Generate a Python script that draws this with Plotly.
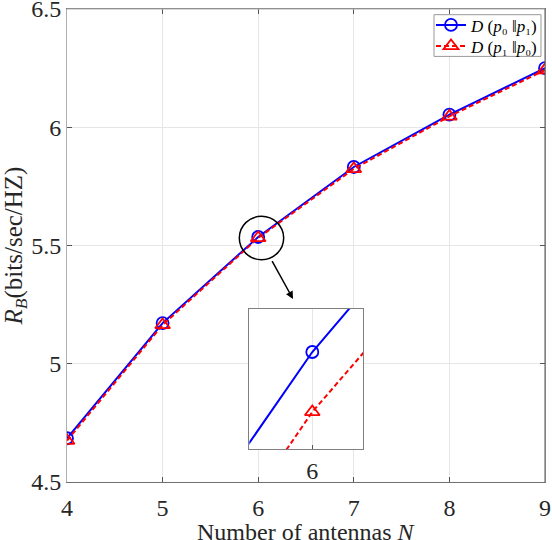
import plotly.graph_objects as go

# ---- data ----
N = [4, 5, 6, 7, 8, 9]
rate_p0p1 = [4.685, 5.172, 5.536, 5.832, 6.053, 6.250]
rate_p1p0 = [4.675, 5.164, 5.532, 5.824, 6.046, 6.242]
x_ticks = [4, 5, 6, 7, 8, 9]
y_ticks = [4.5, 5, 5.5, 6, 6.5]
y_tick_text = ["4.5", "5", "5.5", "6", "6.5"]
inset_ticks = [6]
name0 = "<i>D</i> (<i>p</i>\u2080 \u2016<i>p</i>\u2081)"
name1 = "<i>D</i> (<i>p</i>\u2081 \u2016<i>p</i>\u2080)"
x_title = "Number of antennas <i>N</i>"
y_title = "<i>R</i><sub><i>B</i></sub>(bits/sec/HZ)"

FONT = "Liberation Serif"
BLUE = "#0000ff"
RED = "#ff0000"
TXT = "#262626"

IX = [5.98334, 6.01349]
IY = [5.52953, 5.53887]

fig = go.Figure()
for xa, ya, show in [("x", "y", True), ("x2", "y2", False)]:
    fig.add_trace(go.Scatter(
        x=N, y=rate_p0p1, mode="lines+markers", name=name0,
        line=dict(color=BLUE, width=2),
        marker=dict(symbol="circle-open", size=12, color=BLUE, line=dict(width=1.8)),
        xaxis=xa, yaxis=ya, showlegend=show, legend="legend"))
    fig.add_trace(go.Scatter(
        x=N, y=rate_p1p0, mode="lines+markers", name=name1,
        line=dict(color=RED, width=2, dash="5px,3px"),
        marker=dict(symbol="triangle-up-open", size=13, color=RED, line=dict(width=1.8)),
        xaxis=xa, yaxis=ya, showlegend=show, legend="legend2"))

leg_common = dict(xanchor="left", yanchor="middle", bgcolor="rgba(0,0,0,0)", borderwidth=0,
                  font=dict(family=FONT, size=17, color="black"))

fig.update_layout(
    width=552, height=540,
    margin=dict(l=67, r=7, t=9, b=58, autoexpand=False),
    paper_bgcolor="white", plot_bgcolor="white",
    font=dict(family=FONT, color=TXT, size=24),
    xaxis=dict(
        domain=[0, 1], anchor="y", range=[4, 9], automargin=False,
        tickvals=x_ticks, ticks="inside", ticklen=5, tickcolor="#555",
        showline=True, linecolor="#707070", linewidth=1, mirror="ticks",
        showgrid=True, gridcolor="#e6e6e6", zeroline=False,
        tickfont=dict(family=FONT, size=24), ticklabelstandoff=4, ticklabeloverflow="allow",
    ),
    yaxis=dict(
        domain=[0, 1], anchor="x", range=[4.5, 6.5], automargin=False,
        tickvals=y_ticks, ticktext=y_tick_text, ticks="inside", ticklen=5, tickcolor="#555",
        showline=True, linecolor="#b0b0b0", linewidth=1, mirror="ticks",
        showgrid=True, gridcolor="#e6e6e6", zeroline=False,
        tickfont=dict(family=FONT, size=24), ticklabelstandoff=0, ticklabeloverflow="allow",
        title=dict(text=y_title, font=dict(family=FONT, size=25), standoff=4),
    ),
    xaxis2=dict(
        domain=[0.3814, 0.6199], anchor="y2", range=IX, automargin=False,
        tickvals=inset_ticks, ticks="inside", ticklen=4, tickcolor="#555",
        showline=True, linecolor="#808080", linewidth=1, mirror=True,
        showgrid=True, gridcolor="#e6e6e6", zeroline=False,
        tickfont=dict(family=FONT, size=24), ticklabelstandoff=0,
    ),
    yaxis2=dict(
        domain=[0.0698, 0.3658], anchor="x2", range=IY, automargin=False,
        showticklabels=False, ticks="",
        showline=True, linecolor="#808080", linewidth=1, mirror=True,
        showgrid=False, zeroline=False,
    ),
    legend=dict(x=0.7615, y=0.9653, **leg_common),
    legend2=dict(x=0.7615, y=0.921, **leg_common),
    showlegend=True,
)

# x-axis title as annotation (precise vertical placement)
fig.add_annotation(x=0.5, y=-0.105, xref="paper", yref="paper", xanchor="center", yanchor="middle",
                   text=x_title, showarrow=False, font=dict(family=FONT, size=24, color=TXT))

# legend frame
fig.add_shape(type="rect", xref="paper", yref="paper", x0=0.7678, x1=0.9916, y0=0.8998, y1=0.988,
              fillcolor="white", line=dict(color="#999999", width=1), layer="above")

# inset background hiding main grid
fig.add_shape(type="rect", xref="x2", yref="y2", x0=IX[0], x1=IX[1], y0=IY[0], y1=IY[1],
              fillcolor="white", line=dict(width=0), layer="below")

# magnifier circle
cx, cy, rx, ry = 6.0345, 5.5317, 0.232, 0.0918
fig.add_shape(type="circle", xref="x", yref="y", x0=cx - rx, x1=cx + rx, y0=cy - ry, y1=cy + ry,
              line=dict(color="black", width=1.5))

# frame overlays
fig.add_shape(type="line", xref="paper", yref="paper", x0=0, x1=1, y0=1, y1=1,
              line=dict(color="#b0b0b0", width=1))
fig.add_shape(type="line", xref="paper", yref="paper", x0=1, x1=1, y0=0, y1=1,
              line=dict(color="#555555", width=1))

fig.add_annotation(x=6.364, y=5.274, ax=6.137, ay=5.44, xref="x", yref="y", axref="x", ayref="y",
                   text="", showarrow=True, arrowhead=2, arrowsize=1, arrowwidth=1.5, arrowcolor="black")

fig.write_html("out.html", config={"displayModeBar": False},
               post_script="document.body.style.margin='0px';document.body.style.padding='0px';")
